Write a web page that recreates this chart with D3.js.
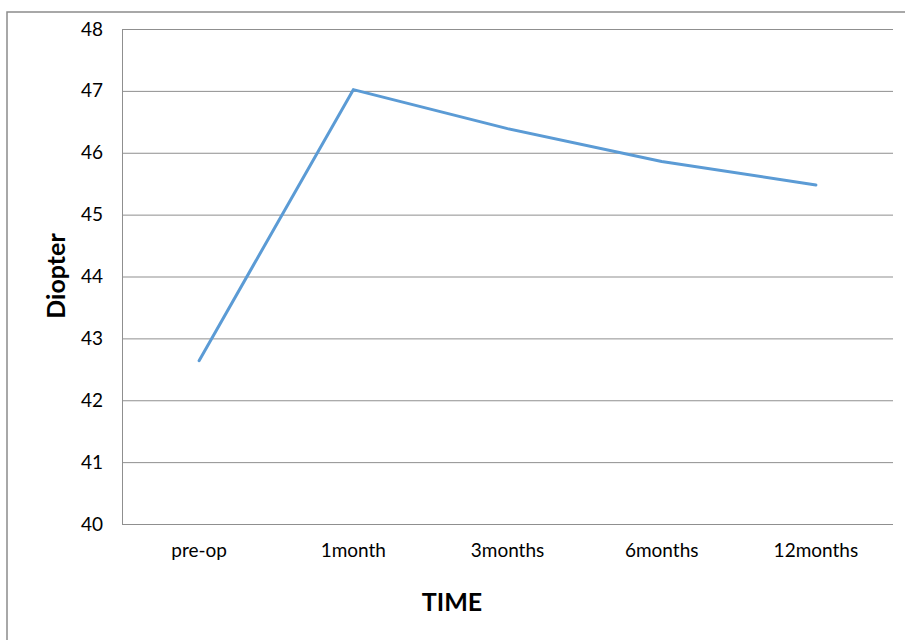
<!DOCTYPE html>
<html><head><meta charset="utf-8">
<script src="https://cdn.jsdelivr.net/npm/d3@7"></script>
<style>body{margin:0;background:#fff;}svg{display:block;font-family:Lato, "Open Sans", sans-serif;}</style>
</head><body>
<svg id="c" width="905" height="640"></svg>
<script>
const categories = ["pre-op","1month","3months","6months","12months"];
const values = [42.64, 47.02, 46.39, 45.86, 45.48];
const yTicks = [40,41,42,43,44,45,46,47,48];
const yLabel = "Diopter";
const xLabel = "TIME";

const svg = d3.select("#c");
const L = 122, R = 893, T = 29, B = 524;

svg.append("rect").attr("x",7).attr("y",12).attr("width",1000).attr("height",1000)
  .attr("fill","none").attr("stroke","#8c8c8c").attr("stroke-width",1.5);

const x = d3.scaleBand().domain(categories).range([L,R]);
const y = d3.scaleLinear().domain([40,48]).range([B,T]);

// gridlines
svg.append("g").selectAll("line").data(yTicks).join("line")
  .attr("x1",L).attr("x2",R).attr("y1",d=>y(d)+0.5).attr("y2",d=>y(d)+0.5)
  .attr("stroke","#8f8f8f").attr("stroke-width",1);
// y axis line
svg.append("line").attr("x1",L+0.5).attr("x2",L+0.5).attr("y1",T).attr("y2",B)
  .attr("stroke","#8f8f8f").attr("stroke-width",1);

// y tick labels
const yAxis = d3.axisLeft(y).tickValues(yTicks).tickSize(0).tickPadding(19);
const gy = svg.append("g").attr("transform",`translate(${L},0)`).call(yAxis);
gy.select(".domain").remove();
gy.selectAll("text").attr("font-size",19).attr("fill","#000").attr("font-family","Lato");

// x tick labels
const xAxis = d3.axisBottom(x).tickSize(0).tickPadding(20);
const gx = svg.append("g").attr("transform",`translate(0,${B})`).call(xAxis);
gx.select(".domain").remove();
gx.selectAll("text").attr("font-size",19).attr("fill","#000").attr("font-family","Lato");

// line
const line = d3.line().x((d,i)=>x(categories[i])+x.bandwidth()/2).y(d=>y(d));
svg.append("path").datum(values).attr("d",line).attr("fill","none")
  .attr("stroke","#5b9bd5").attr("stroke-width",3).attr("stroke-linejoin","round").attr("stroke-linecap","round");

// axis titles
svg.append("text").attr("transform","translate(65,276) rotate(-90)").attr("text-anchor","middle")
  .attr("font-size",25).attr("font-weight","bold").attr("fill","#000").text(yLabel);
svg.append("text").attr("x",452).attr("y",611).attr("text-anchor","middle")
  .attr("font-size",25).attr("font-weight","bold").attr("fill","#000").text(xLabel);
</script>
</body></html>
